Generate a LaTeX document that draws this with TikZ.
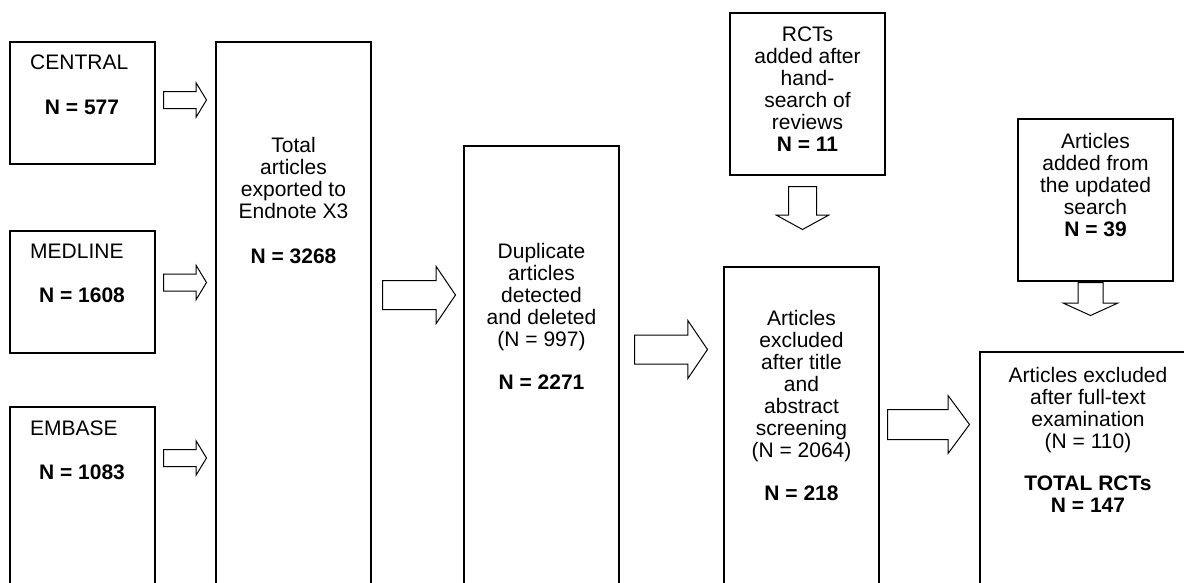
\documentclass[tikz,border=0pt]{standalone}
\usepackage{fontspec}
\setmainfont{Liberation Sans}
\usetikzlibrary{shapes.arrows}

\tikzset{
    box/.style={draw, line width=1.3pt, inner sep=0},
    txt/.style={font=\fontsize{21}{22}\selectfont, align=center, inner sep=0, anchor=north},
    fat/.style={draw, line width=1pt, single arrow, inner xsep=0, anchor=tail},
    thin/.style={fat, minimum height=43, inner ysep=8, single arrow head extend=8.5, single arrow tip angle=117.6},
    thick/.style={fat, minimum height=73, inner ysep=14, single arrow head extend=14, single arrow tip angle=111.7},
}

\begin{document}
\begin{tikzpicture}[x=1pt, y=-1pt]
    \useasboundingbox (0,0) rectangle (1184,582);
    \clip (0,0) rectangle (1184,582);
    % databases
    \node(central)[box, minimum width=145, minimum height=122] at (82.5,103) {};
    \node(medline)[box, minimum width=145, minimum height=122] at (82.5,292) {};
    \node(embase)[box, minimum width=145, minimum height=200] at (82.5,507) {};
    \node(centrallbl)[txt, anchor=north west] at (30,55) {CENTRAL};
    \node(centraln)[txt] at (82,100) {\textbf{N = 577}};
    \node(medlinelbl)[txt, anchor=north west] at (30,244) {MEDLINE};
    \node(medlinen)[txt] at (82,288) {\textbf{N = 1608}};
    \node(embaselbl)[txt, anchor=north west] at (30,421) {EMBASE};
    \node(embasen)[txt] at (82,465) {\textbf{N = 1083}};
    % main steps
    \node(total)[box, minimum width=155, minimum height=600] at (293.5,342) {};
    \node(totaltxt)[txt] at (293.5,137) {Total\\articles\\exported to\\Endnote X3\\[23pt]\textbf{N = 3268}};
    \node(dup)[box, minimum width=155, minimum height=500] at (541.5,396) {};
    \node(duptxt)[txt] at (541.5,243) {Duplicate\\articles\\detected\\and deleted\\(N = 997)\\[21pt]\textbf{N = 2271}};
    \node(screen)[box, minimum width=155, minimum height=400] at (801.5,467) {};
    \node(screentxt)[txt] at (801.5,310) {Articles\\excluded\\after title\\and\\abstract\\screening\\(N = 2064)\\[21pt]\textbf{N = 218}};
    \node(final)[box, minimum width=216, minimum height=300] at (1088,502) {};
    \node(finaltxt)[txt] at (1088,367) {Articles excluded\\after full-text\\examination\\(N = 110)\\[20pt]\textbf{TOTAL RCTs}\\\textbf{N = 147}};
    % added articles
    \node(rcts)[box, minimum width=155, minimum height=162] at (807.5,94) {};
    \node(rctstxt)[txt] at (807.5,27) {RCTs\\added after\\hand-\\search of\\reviews\\\textbf{N = 11}};
    \node(update)[box, minimum width=155, minimum height=162] at (1095.5,200) {};
    \node(updatetxt)[txt] at (1095.5,133) {Articles\\added from\\the updated\\search\\\textbf{N = 39}};
    % block arrows
    \node(a1)[thin] at (163,100) {};
    \node(a2)[thin] at (163,282.5) {};
    \node(a3)[thin] at (163,458) {};
    \node(a4)[thick] at (382,295) {};
    \node(a5)[thick, single arrow head extend=14.5] at (634,349.5) {};
    \node(a6)[thick, minimum height=82, inner ysep=14.5, single arrow tip angle=107] at (887,424.5) {};
    \node(a7)[fat, rotate=-90, minimum height=43, inner ysep=13.5, single arrow head extend=12, single arrow tip angle=122.5] at (802.5,186) {};
    \node(a8)[fat, rotate=-90, minimum height=33, inner ysep=12, single arrow head extend=14.5, single arrow tip angle=131] at (1090.5,282) {};
\end{tikzpicture}
\end{document}
